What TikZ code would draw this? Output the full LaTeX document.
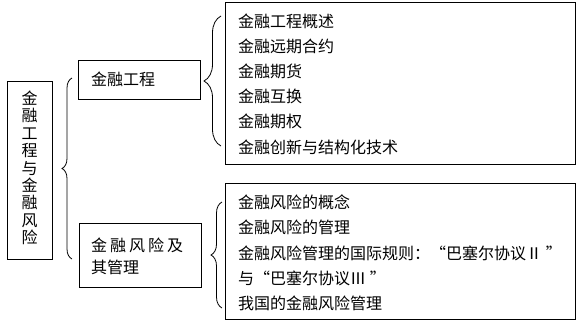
\documentclass[tikz,border=0pt]{standalone}
\usepackage{fontspec}
\setmainfont{Noto Sans CJK SC}
\usetikzlibrary{decorations.pathreplacing}
\begin{document}
\begin{tikzpicture}[x=1pt,y=-1pt,
  box/.style={draw=black,line width=0.9pt,inner sep=0pt,rectangle},
  txt/.style={font=\fontsize{16}{25.2}\selectfont,align=left,inner sep=0pt},
  bracestyle/.style={draw=black,line width=0.8pt,decorate,decoration={brace,amplitude=#1}}]
\useasboundingbox (0,0) rectangle (583,325);
% boxes
\node[box,minimum width=45pt,minimum height=178pt] (L) at (29.5,170) {};
\node[txt,align=center,font=\fontsize{16}{17.4}\selectfont] (Lt) at (29.5,168) {金\\融\\工\\程\\与\\金\\融\\风\\险};
\node[box,minimum width=122pt,minimum height=39pt] (A) at (139,79.5) {};
\node[txt,anchor=west] (At) at (91,79) {金融工程};
\node[box,minimum width=122pt,minimum height=64pt] (B) at (140,255) {};
\node[txt,anchor=west,font=\fontsize{16}{22}\selectfont] (Bt) at (91,256) {金\hspace{3pt}融\hspace{3pt}风\hspace{3pt}险\hspace{3pt}及\\其管理};
\node[box,minimum width=350pt,minimum height=162pt] (R1) at (400,83) {};
\node[txt,anchor=west] (R1t) at (238,84) {金融工程概述\\金融远期合约\\金融期货\\金融互换\\金融期权\\金融创新与结构化技术};
\node[box,minimum width=350pt,minimum height=136pt] (R2) at (400,251) {};
\node[txt,anchor=west] (R2t) at (238,253) {金融风险的概念\\金融风险的管理\\金融风险管理的国际规则：“巴塞尔协议Ⅱ ”\\与“巴塞尔协议Ⅲ ”\\我国的金融风险管理};
% braces
\coordinate (b1t) at (72,78);
\coordinate (b1b) at (72,259);
\coordinate (b2t) at (221,16);
\coordinate (b2b) at (221,146);
\coordinate (b3t) at (222,202);
\coordinate (b3b) at (222,308);
\draw[bracestyle=10pt] (b1b) -- (b1t);
\draw[bracestyle=17pt] (b2b) -- (b2t);
\draw[bracestyle=11pt] (b3b) -- (b3t);
\end{tikzpicture}
\end{document}
